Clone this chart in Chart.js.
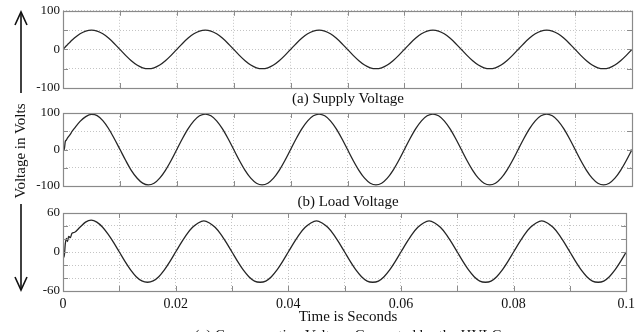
<!DOCTYPE html>
<html>
<head>
<meta charset="utf-8">
<script src="https://cdn.jsdelivr.net/npm/chart.js@4/dist/chart.umd.min.js"></script>
<style>
  html, body { margin:0; padding:0; background:#fff; width:640px; height:332px; overflow:hidden; }
  canvas { position:absolute; left:0; }
  .cap { position:absolute; left:0; width:696px; text-align:center; font-family:"Liberation Serif","Times New Roman",serif; font-size:15px; color:#111; line-height:18px; white-space:nowrap; }
  svg { position:absolute; left:0; top:0; }
</style>
</head>
<body>
<canvas id="c1" width="640" height="100" style="top:0px"></canvas>
<canvas id="c2" width="640" height="100" style="top:100px"></canvas>
<canvas id="c3" width="640" height="132" style="top:200px"></canvas>
<div class="cap" style="top:89px">(a) Supply Voltage</div>
<div class="cap" style="top:192px">(b) Load Voltage</div>
<div class="cap" style="top:307px">Time is Seconds</div>
<div class="cap" style="top:326px">(c) Compensating Voltage Generated by the HVLC</div>
<svg width="40" height="332">
  <g stroke="#111" stroke-width="1.6" fill="none">
    <line x1="21" y1="93" x2="21" y2="13"/>
    <polyline points="15,25 21,12 27,25"/>
    <line x1="21" y1="204" x2="21" y2="289"/>
    <polyline points="15,277 21,290 27,277"/>
  </g>
  <text x="0" y="0" transform="translate(25,151) rotate(-90)" text-anchor="middle" font-family="Liberation Serif, Times New Roman, serif" font-size="15" fill="#111">Voltage in Volts</text>
</svg>
<script>
// time axis (seconds), finer at the start to follow the transient
const time = [0,0.0002,0.0004,0.0006,0.0008,0.001,0.0013,0.0016,0.002,
  0.003,0.004,0.005,0.006,0.007,0.008,0.009,0.010,0.011,0.012,0.013,0.014,0.015,0.016,0.017,0.018,0.019,
  0.020,0.021,0.022,0.023,0.024,0.025,0.026,0.027,0.028,0.029,0.030,0.031,0.032,0.033,0.034,0.035,0.036,0.037,0.038,0.039,
  0.040,0.041,0.042,0.043,0.044,0.045,0.046,0.047,0.048,0.049,0.050,0.051,0.052,0.053,0.054,0.055,0.056,0.057,0.058,0.059,
  0.060,0.061,0.062,0.063,0.064,0.065,0.066,0.067,0.068,0.069,0.070,0.071,0.072,0.073,0.074,0.075,0.076,0.077,0.078,0.079,
  0.080,0.081,0.082,0.083,0.084,0.085,0.086,0.087,0.088,0.089,0.090,0.091,0.092,0.093,0.094,0.095,0.096,0.097,0.098,0.099,
  0.100];

// (a) Supply Voltage
const supply = [0,3.1,6.3,9.4,12.4,15.5,19.9,24.1,29.4,
  40.5,47.6,50,47.6,40.5,29.4,15.5,0,-15.5,-29.4,-40.5,-47.6,-50,-47.6,-40.5,-29.4,-15.5,
  0,15.5,29.4,40.5,47.6,50,47.6,40.5,29.4,15.5,0,-15.5,-29.4,-40.5,-47.6,-50,-47.6,-40.5,-29.4,-15.5,
  0,15.5,29.4,40.5,47.6,50,47.6,40.5,29.4,15.5,0,-15.5,-29.4,-40.5,-47.6,-50,-47.6,-40.5,-29.4,-15.5,
  0,15.5,29.4,40.5,47.6,50,47.6,40.5,29.4,15.5,0,-15.5,-29.4,-40.5,-47.6,-50,-47.6,-40.5,-29.4,-15.5,
  0,15.5,29.4,40.5,47.6,50,47.6,40.5,29.4,15.5,0,-15.5,-29.4,-40.5,-47.6,-50,-47.6,-40.5,-29.4,-15.5,
  0];

// (b) Load Voltage
const load = [0,-2,22,26,32,36,42,50,58,
  77,90,96,93,79,57.5,30,0.5,-29.5,-57,-78,-92,-97,-92.5,-78.5,-57,-30,
  0,30,57,78.5,92.3,97,92.3,78.5,57,30,0,-30,-57,-78.5,-92.3,-97,-92.3,-78.5,-57,-30,
  0,30,57,78.5,92.3,97,92.3,78.5,57,30,0,-30,-57,-78.5,-92.3,-97,-92.3,-78.5,-57,-30,
  0,30,57,78.5,92.3,97,92.3,78.5,57,30,0,-30,-57,-78.5,-92.3,-97,-92.3,-78.5,-57,-30,
  0,30,57,78.5,92.3,97,92.3,78.5,57,30,0,-30,-57,-78.5,-92.3,-97,-92.3,-78.5,-57,-30,
  0];

// (c) Compensating Voltage
const comp = [0,-8,12,21,16,24,22,29,30,
  38,46,49,46,38.5,27.5,14.5,0,-14.5,-27.5,-38,-44.5,-46.5,-44.5,-38,-27.5,-14.5,
  0,14.5,27.6,38,44.7,48,44.7,38,27.6,14.5,0,-14.5,-27.6,-38,-44.7,-46.5,-44.7,-38,-27.6,-14.5,
  0,14.5,27.6,38,44.7,48,44.7,38,27.6,14.5,0,-14.5,-27.6,-38,-44.7,-46.5,-44.7,-38,-27.6,-14.5,
  0,14.5,27.6,38,44.7,48,44.7,38,27.6,14.5,0,-14.5,-27.6,-38,-44.7,-46.5,-44.7,-38,-27.6,-14.5,
  0,14.5,27.6,38,44.7,48,44.7,38,27.6,14.5,0,-14.5,-27.6,-38,-44.7,-46.5,-44.7,-38,-27.6,-14.5,
  0];

const xTickLabels = ['0','0.02','0.04','0.06','0.08','0.1'];
const yLabelsA = [100, 0, -100];
const yLabelsB = [100, 0, -100];
const yLabelsC = [60, 0, -60];

const FONT = '"Liberation Serif","Times New Roman",serif';

const framePlugin = {
  id: 'frame',
  afterDatasetsDraw(chart) {
    const {ctx, chartArea: a, scales: {x, y}} = chart;
    ctx.save();
    ctx.setLineDash([]);
    ctx.strokeStyle = '#8c8c8c';
    ctx.lineWidth = 1;
    ctx.beginPath();
    x.ticks.forEach(t => {
      const px = Math.round(x.getPixelForValue(t.value)) + 0.5;
      ctx.moveTo(px, a.top); ctx.lineTo(px, a.top + 5);
      ctx.moveTo(px, a.bottom); ctx.lineTo(px, a.bottom - 5);
    });
    y.ticks.forEach(t => {
      const py = Math.round(y.getPixelForValue(t.value)) + 0.5;
      ctx.moveTo(a.left, py); ctx.lineTo(a.left + 5, py);
      ctx.moveTo(a.right, py); ctx.lineTo(a.right - 5, py);
    });
    ctx.stroke();
    ctx.lineWidth = 1.2;
    ctx.strokeStyle = '#8a8a8a';
    ctx.strokeRect(Math.round(a.left) + 0.5, Math.round(a.top) + 0.5,
                   Math.round(a.right - a.left), Math.round(a.bottom - a.top));
    ctx.restore();
  }
};

function makeChart(id, values, yMin, yMax, yStep, yLabels, plotTop, xHeight, showX) {
  const data = time.map((t, i) => ({x: t, y: values[i]}));
  return new Chart(document.getElementById(id), {
    type: 'line',
    data: { datasets: [{
      data,
      borderColor: '#262626',
      borderWidth: 1.3,
      pointRadius: 0,
      cubicInterpolationMode: 'monotone',
      fill: false
    }]},
    options: {
      responsive: false,
      animation: false,
      devicePixelRatio: 1,
      layout: { padding: { top: plotTop, right: 8, left: 0, bottom: 0 } },
      plugins: { legend: { display: false }, tooltip: { enabled: false } },
      scales: {
        x: {
          type: 'linear', min: 0, max: 0.1,
          afterFit: s => { s.height = xHeight; },
          grid: { color: '#c4c4c4', lineWidth: 1, drawTicks: false },
          border: { display: false, dash: [1, 2] },
          ticks: {
            display: showX, stepSize: 0.01, autoSkip: false, maxRotation: 0,
            padding: 5, color: '#111', font: { family: FONT, size: 14 },
            callback: v => {
              const r = Math.round(v * 100);
              return r % 2 === 0 ? xTickLabels[r / 2] : '';
            }
          }
        },
        y: {
          min: yMin, max: yMax,
          afterFit: s => { s.width = 63; },
          grid: { color: '#c4c4c4', lineWidth: 1, drawTicks: false },
          border: { display: false, dash: [1, 2] },
          ticks: {
            stepSize: yStep, autoSkip: false, padding: 3, color: '#111',
            font: { family: FONT, size: 13 },
            callback: v => yLabels.includes(Math.round(v)) ? String(Math.round(v)) : ''
          }
        }
      }
    },
    plugins: [framePlugin]
  });
}

makeChart('c1', supply, -100, 100, 50, yLabelsA, 9, 12, false);
makeChart('c2', load, -100, 100, 50, yLabelsB, 13, 14, false);
makeChart('c3', comp, -60, 60, 20, yLabelsC, 13, 41, true);
</script>
</body>
</html>
